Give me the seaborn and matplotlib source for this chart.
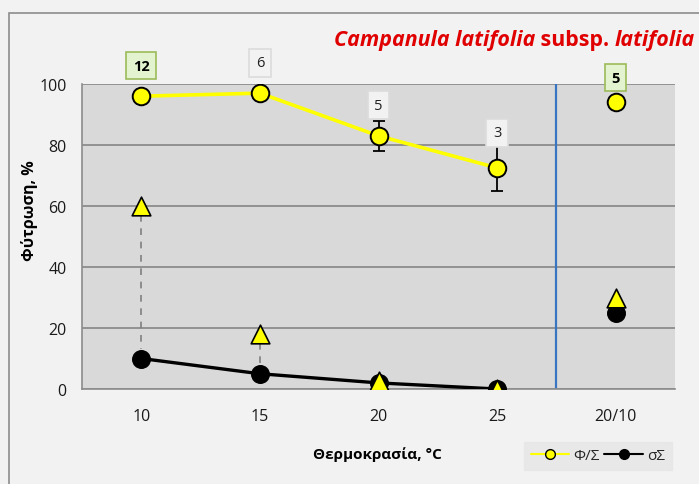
import matplotlib
matplotlib.use("Agg")
import matplotlib.pyplot as plt
from matplotlib.lines import Line2D
import seaborn as sns
import pandas as pd
import numpy as np

# Temperature treatments (constant and alternating)
categories = ["10", "15", "20", "25", "20/10"]
# Final germination, % (Φ/Σ) and its error
germ_final = [96, 97, 83, 72.5, 94]
germ_err = [1.5, 0.5, 5, 7.5, 1.5]
# Early-count germination (triangles) and σΣ
germ_early = [60, 18, 2.5, 0, 30]
germ_sigma = [10, 5, 2, 0, 25]
# Numbers in boxes above points
box_labels = ["12", "6", "5", "3", "5"]
box_y = [106, 107, 93, 84, 102]
box_green = [True, False, False, False, True]

sns.set_theme(style="white")
plt.rcParams["font.family"] = ["Open Sans", "DejaVu Sans"]

fig = plt.figure(figsize=(6.99, 4.85), dpi=100, facecolor="#f2f2f2")
ax = fig.add_axes([82 / 699, 95 / 485, 593 / 699, 305 / 485])
ax.set_facecolor("#d9d9d9")

# outer frame
fig.patches.append(plt.Rectangle((9 / 699, -0.01), 1.0, (485 - 14) / 485 + 0.01,
                                 transform=fig.transFigure, fill=False,
                                 edgecolor="#8c8c8c", linewidth=1.2, zorder=0))

pos = np.arange(len(categories))
df = pd.DataFrame({"pos": pos, "cat": categories, "final": germ_final,
                   "err": germ_err, "early": germ_early, "sigma": germ_sigma})
main = df.iloc[:4]

# connecting lines for constant temperatures
sns.lineplot(data=main, x="pos", y="final", color="#ffff00", linewidth=2.6,
             ax=ax, zorder=3, legend=False)
sns.lineplot(data=main, x="pos", y="sigma", color="black", linewidth=2.4,
             ax=ax, zorder=3, legend=False)

# dashed links between early count and σΣ
for i in range(2):
    ax.plot([pos[i], pos[i]], [germ_early[i] - 3, germ_sigma[i] + 3],
            color="#7f7f7f", linestyle=(0, (4, 4)), linewidth=1.2, zorder=2)

ax.errorbar(pos, germ_final, yerr=germ_err, fmt="none", ecolor="black",
            elinewidth=1.3, capsize=4.5, capthick=1.3, zorder=4)

sns.scatterplot(data=df, x="pos", y="sigma", color="black", s=160,
                edgecolor="black", linewidth=1, ax=ax, zorder=5, legend=False)
sns.scatterplot(data=df, x="pos", y="early", color="#ffff00", marker="^", s=180,
                edgecolor="black", linewidth=1.2, ax=ax, zorder=6, legend=False)
sns.scatterplot(data=df, x="pos", y="final", color="#ffff00", s=160,
                edgecolor="black", linewidth=1.4, ax=ax, zorder=7, legend=False)

# separator between constant and alternating regimes
ax.axvline(3.5, color="#3a75c4", linewidth=1.6, zorder=2)

# boxed numbers above points
for x, y, t, g in zip(pos, box_y, box_labels, box_green):
    if g:
        bb = dict(boxstyle="square,pad=0.45", facecolor="#e3f3cf",
                  edgecolor="#9bbb59", linewidth=1.2)
        ax.text(x, y, t, ha="center", va="center", fontsize=10.5,
                fontweight="bold", color="black", bbox=bb, clip_on=False, zorder=8)
    else:
        bb = dict(boxstyle="square,pad=0.45", facecolor="#f2f2f2",
                  edgecolor="#dcdcdc", linewidth=1.2)
        ax.text(x, y, t, ha="center", va="center", fontsize=10.5,
                color="#222222", bbox=bb, clip_on=False, zorder=8)

ax.set_xlim(-0.5, 4.5)
ax.set_ylim(0, 100)
ax.set_yticks(range(0, 101, 20))
ax.set_xticks(pos)
ax.set_xticklabels(categories)
ax.set_xticks(np.arange(-0.5, 4.6, 1), minor=True)
ax.tick_params(axis="x", which="major", length=0, pad=14, labelsize=11.5, colors="#1a1a1a")
ax.tick_params(axis="x", which="minor", length=5, width=1, color="#8c8c8c", direction="out")
ax.tick_params(axis="y", length=5, width=1, color="#8c8c8c", direction="out",
               labelsize=11.5, colors="#1a1a1a", pad=6)
ax.yaxis.grid(True, color="#868686", linewidth=1.2)
ax.set_axisbelow(True)
ax.set_xlabel("")
ax.set_ylabel("")
for s in ["top", "right"]:
    ax.spines[s].set_visible(False)
for s in ["left", "bottom"]:
    ax.spines[s].set_color("#8c8c8c")
    ax.spines[s].set_linewidth(1.2)

fig.text(30 / 699, 1 - 211 / 485, "Φύτρωση, %", rotation=90, ha="center",
         va="center", fontsize=11.5, fontweight="bold", color="black")
fig.text(377 / 699, 1 - 455 / 485, "Θερμοκρασία, °C", ha="center",
         va="center", fontsize=11, fontweight="bold", color="black")

# title with mixed italic/upright parts, laid out right to left
red = "#e00000"
tsize = 15.4
t3 = fig.text(695 / 699, 1 - 46 / 485, "latifolia", ha="right", va="baseline",
              fontsize=tsize, fontweight="bold", fontstyle="italic", color=red)
t2 = ax.annotate(" subsp. ", xy=(0, 0), xycoords=t3, ha="right", va="bottom",
                 fontsize=tsize, fontweight="bold", color=red)
t1 = ax.annotate("Campanula latifolia", xy=(0, 0), xycoords=t2, ha="right",
                 va="bottom", fontsize=tsize, fontweight="bold",
                 fontstyle="italic", color=red)

handles = [Line2D([], [], color="#ffff00", linewidth=1.5, marker="o", markersize=7,
                  markerfacecolor="#ffff00", markeredgecolor="black"),
           Line2D([], [], color="black", linewidth=1.5, marker="o", markersize=7,
                  markerfacecolor="black", markeredgecolor="black")]
leg = fig.legend(handles, ["Φ/Σ", "σΣ"], ncol=2, loc="center",
                 bbox_to_anchor=(598 / 699, 1 - 457 / 485), frameon=True,
                 fontsize=11, handlelength=2.5, columnspacing=0.3,
                 handletextpad=0.3, borderpad=0.45, fancybox=False)
leg.get_frame().set_facecolor("#e6e6e6")
leg.get_frame().set_edgecolor("#e6e6e6")

fig.savefig("out.png", dpi=100, facecolor=fig.get_facecolor())
